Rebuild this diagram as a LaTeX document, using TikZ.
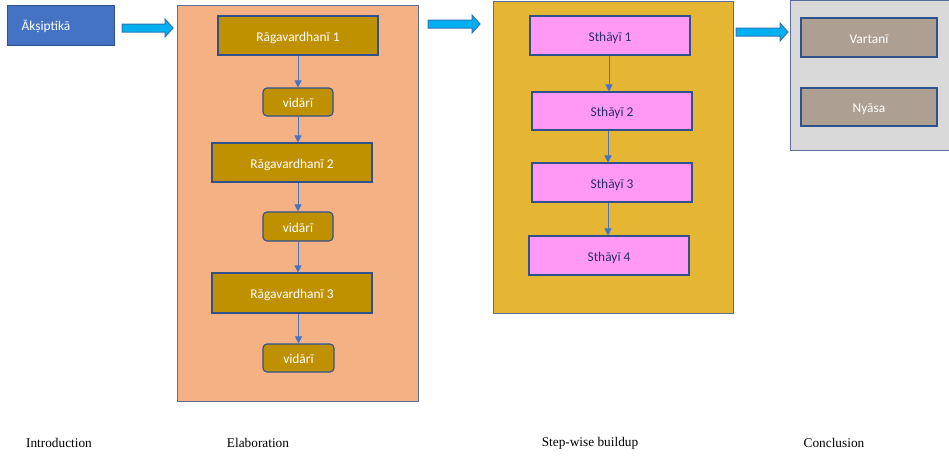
\documentclass[tikz,border=0pt]{standalone}
\usepackage{fontspec}
\setmainfont{Carlito}
\newfontfamily\labelfont{Liberation Serif}
\usetikzlibrary{arrows.meta}
\definecolor{introblue}{HTML}{4472C4}
\definecolor{darkborder}{HTML}{2F528F}
\definecolor{contborder}{HTML}{5A6E9C}
\definecolor{elabfill}{HTML}{F4B183}
\definecolor{stepfill}{HTML}{E5B534}
\definecolor{conclfill}{HTML}{D9D9D9}
\definecolor{ochre}{HTML}{BF9000}
\definecolor{pinkfill}{HTML}{FF99F5}
\definecolor{taupe}{HTML}{ADA092}
\definecolor{arrowblue}{HTML}{00B0F0}
\definecolor{arrowedge}{HTML}{2E75B6}
\definecolor{sthtext}{HTML}{2B2E6B}
\tikzset{
  x=1pt, y=-1pt,
  boxfont/.style={font=\fontsize{13.4}{15}\selectfont, text height=11pt, text depth=0pt},
  container/.style={draw=contborder, line width=1pt},
  ragbox/.style={draw=darkborder, line width=1.1pt, fill=ochre, text=white, boxfont, minimum height=39pt, inner sep=0pt},
  vidbox/.style={ragbox, rounded corners=4pt, minimum width=70pt, minimum height=28pt},
  sthbox/.style={draw=darkborder, line width=1.1pt, fill=pinkfill, text=sthtext, boxfont, minimum width=160pt, minimum height=39pt, inner sep=0pt},
  conbox/.style={draw=darkborder, line width=1.1pt, fill=taupe, text=white, boxfont, minimum width=136pt, minimum height=39pt, inner sep=0pt},
  flow/.style={draw=introblue, line width=0.8pt, -{Triangle[length=7pt,width=7pt]}},
  blockarrow/.style={fill=arrowblue, draw=arrowedge, line width=1pt, line join=miter},
  caption/.style={font=\labelfont\fontsize{13.3}{15}\selectfont, inner sep=0pt}
}
\begin{document}
\begin{tikzpicture}
\useasboundingbox (0,0) rectangle (949,458);
% containers
\draw[container, fill=elabfill] (177,5) rectangle (418,401);
\draw[container, fill=stepfill] (493,1) rectangle (733,313);
\draw[container, fill=conclfill] (790,0.5) rectangle (955,150);
% intro box
\draw[draw=darkborder, line width=1pt, fill=introblue] (7,5) rectangle (114,45);
\node[text=white, boxfont, inner sep=0pt] (aks) at (46,25) {Ākṣiptikā};
% block arrows
\foreach \xa/\xb/\yy in {122/173/28, 428/480/24, 736/788/32}{
  \draw[blockarrow] (\xa,\yy-4) -- (\xb-8,\yy-4) -- (\xb-8,\yy-9) -- (\xb,\yy) -- (\xb-8,\yy+9) -- (\xb-8,\yy+4) -- (\xa,\yy+4) -- cycle;
}
% elaboration
\node[ragbox, minimum width=160pt] (r1) at (298,35.5) {Rāgavardhanī 1};
\node[vidbox] (v1) at (298,102) {vidārī};
\node[ragbox, minimum width=160pt] (r2) at (292,162.5) {Rāgavardhanī 2};
\node[vidbox, minimum height=29pt] (v2) at (298,226.5) {vidārī};
\node[ragbox, minimum width=160pt, minimum height=40pt] (r3) at (292,293) {Rāgavardhanī 3};
\node[vidbox, minimum width=71pt] (v3) at (298.5,358) {vidārī};
\draw[flow] (v1.north |- r1.south) -- (v1.north);
\draw[flow] (v1.south) -- (v1.south |- r2.north);
\draw[flow] (v2.north |- r2.south) -- (v2.north);
\draw[flow] (v2.south) -- (v2.south |- r3.north);
\draw[flow] (v3.north |- r3.south) -- (v3.north);
% step-wise
\node[sthbox] (s1) at (610,35.5) {Sthāyī 1};
\node[sthbox, minimum height=38pt] (s2) at (612,111) {Sthāyī 2};
\node[sthbox] (s3) at (612,182.5) {Sthāyī 3};
\node[sthbox] (s4) at (609,255.5) {Sthāyī 4};
\draw[flow] (s1.south -| 609,0) -- (s2.north -| 609,0);
\draw[flow] (s2.south -| 608,0) -- (s3.north -| 608,0);
\draw[flow] (s3.south -| 608,0) -- (s4.north -| 608,0);
% conclusion
\node[conbox] (va) at (869,37.5) {Vartanī};
\node[conbox, minimum height=38pt] (ny) at (869,107) {Nyāsa};
% captions
\node[caption] (c1) at (59,443) {Introduction};
\node[caption] (c2) at (258,443) {Elaboration};
\node[caption] (c3) at (590,443) {Step-wise buildup};
\node[caption] (c4) at (834,443) {Conclusion};
\end{tikzpicture}
\end{document}
